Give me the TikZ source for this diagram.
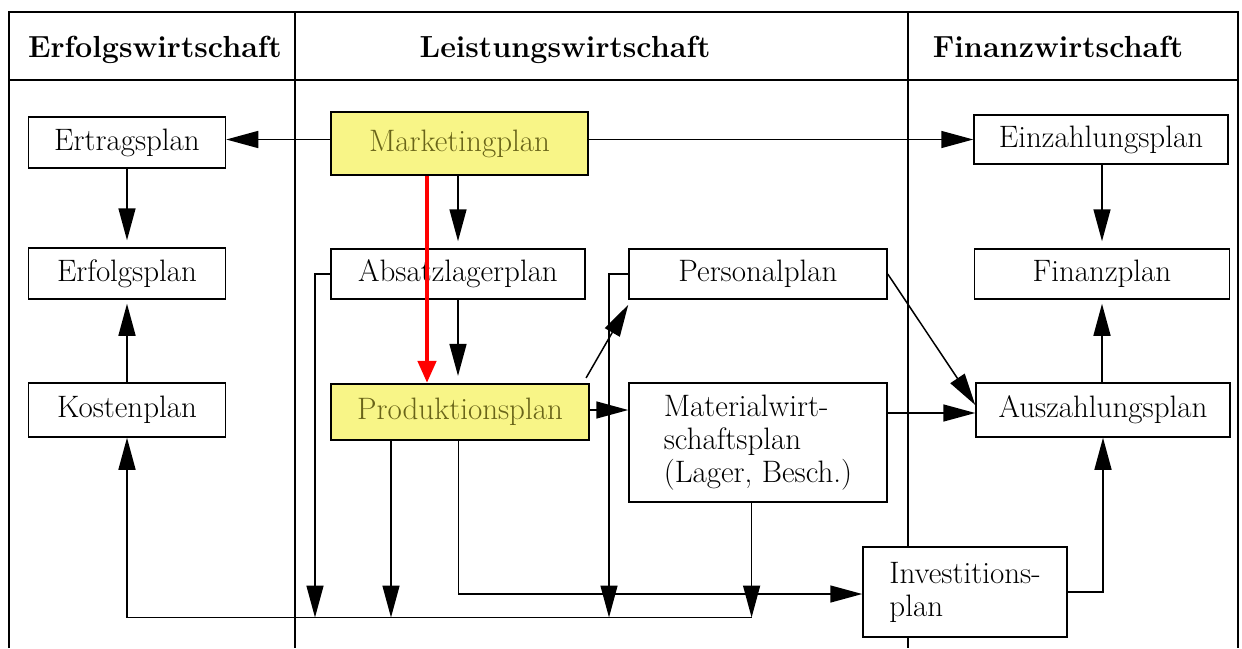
\documentclass[tikz,border=0pt]{standalone}
\usetikzlibrary{arrows.meta}
\definecolor{hlfill}{RGB}{248,245,135}
\definecolor{hltext}{RGB}{105,100,25}
\begin{document}
\begin{tikzpicture}[x=1pt,y=-1pt,
  font=\fontsize{31}{33}\selectfont,
  frame/.style={line width=1.5pt},
  box/.style={draw=black, line width=1.5pt, fill=white, inner sep=0pt, align=center},
  hlbox/.style={draw=black, line width=2.2pt, fill=hlfill, text=hltext, inner sep=0pt},
  head/.style={font=\bfseries\fontsize{30.5}{33}\selectfont, anchor=base},
  conn/.style={line width=1.5pt, -{Triangle[length=32pt,width=17pt]}},
  redarrow/.style={red, line width=4.5pt, -{Triangle[length=22pt,width=18pt]}}]
\useasboundingbox (0,0) rectangle (1242,648);
% frame
\draw[frame] (9,648) -- (9,12) -- (1238,12) -- (1238,648);
\draw[frame] (9,80) -- (1238,80);
\draw[frame] (295,12) -- (295,648);
\draw[frame] (908,12) -- (908,648);
% headers
\node[head] (h1) at (155,57) {Erfolgswirtschaft};
\node[head] (h2) at (565,57) {Leistungswirtschaft};
\node[head] (h3) at (1058,57) {Finanzwirtschaft};
% nodes
\node[box, minimum width=197pt, minimum height=51pt] (ertrag) at (127,142.5) {Ertragsplan};
\node[hlbox, minimum width=257pt, minimum height=63pt] (mkt) at (459.5,143.5) {Marketingplan};
\node[box, minimum width=254pt, minimum height=49pt] (einz) at (1101,139.5) {Einzahlungsplan};
\node[box, minimum width=197pt, minimum height=51pt] (erfolg) at (127,273.5) {Erfolgsplan};
\node[box, minimum width=254pt, minimum height=50pt] (absatz) at (458,274) {Absatzlagerplan};
\node[box, minimum width=258pt, minimum height=50pt] (personal) at (758,274) {Personalplan};
\node[box, minimum width=255pt, minimum height=50pt] (finanz) at (1102,274) {Finanzplan};
\node[box, minimum width=197pt, minimum height=54pt] (kosten) at (127,410) {Kostenplan};
\node[hlbox, minimum width=258pt, minimum height=56pt] (prod) at (460,412) {Produktionsplan};
\node[box, minimum width=258pt, minimum height=119pt, align=left] (material) at (758,442.5) {Materialwirt-\\schaftsplan\\(Lager, Besch.)};
\node[box, minimum width=254pt, minimum height=54pt] (ausz) at (1103,410) {Auszahlungsplan};
\node[box, minimum width=204pt, minimum height=90pt, align=left] (invest) at (965,592) {Investitions-\\plan};
% bus coordinates
\coordinate (b1) at (315,617.5);
\coordinate (b2) at (391,617.5);
\coordinate (b3) at (609,617.5);
\coordinate (b4) at (751.6,617.5);
\coordinate (redx) at (427,0);
% connectors
\draw[conn] (mkt.west |- einz.west) -- (ertrag.east |- einz.west);
\draw[conn] (mkt.east |- einz.west) -- (einz.west);
\draw[conn, shorten >=7pt] (ertrag.south) -- (erfolg.north);
\draw[conn, shorten >=4pt] (kosten.north) -- (erfolg.south);
\draw[conn, shorten >=7pt] (mkt.south -| absatz.north) -- (absatz.north);
\draw[conn, shorten >=7pt] (absatz.south) -- (absatz.south |- prod.north);
\draw[redarrow] (mkt.south -| redx) -- (prod.north -| redx);
\draw[conn, shorten >=7pt] (einz.south -| finanz.north) -- (finanz.north);
\draw[conn, shorten >=4pt] (ausz.north -| finanz.south) -- (finanz.south);
\draw[conn] ([shift={(-4pt,5pt)}]prod.north east) -- ([yshift=-5pt]personal.south west);
\draw[conn] (prod.east |- ausz.west) -- (material.west |- ausz.west);
\draw[conn] (personal.east) -- ([yshift=5pt]ausz.west);
\draw[conn] ([yshift=-3pt]material.east |- ausz.west) -- ([yshift=-3pt]ausz.west);
\draw[conn] (invest.east) -| (ausz.south);
\draw[conn] (absatz.west) -| (b1);
\draw[conn] (prod.south -| b2) -- (b2);
\draw[conn] (personal.west) -| (b3);
\draw[conn] (material.south -| b4) -- (b4);
\draw[conn] (b4) -| (kosten.south);
\draw[conn] ([xshift=-1.5pt]prod.south) |- ([yshift=-2pt]invest.west);
\end{tikzpicture}
\end{document}
